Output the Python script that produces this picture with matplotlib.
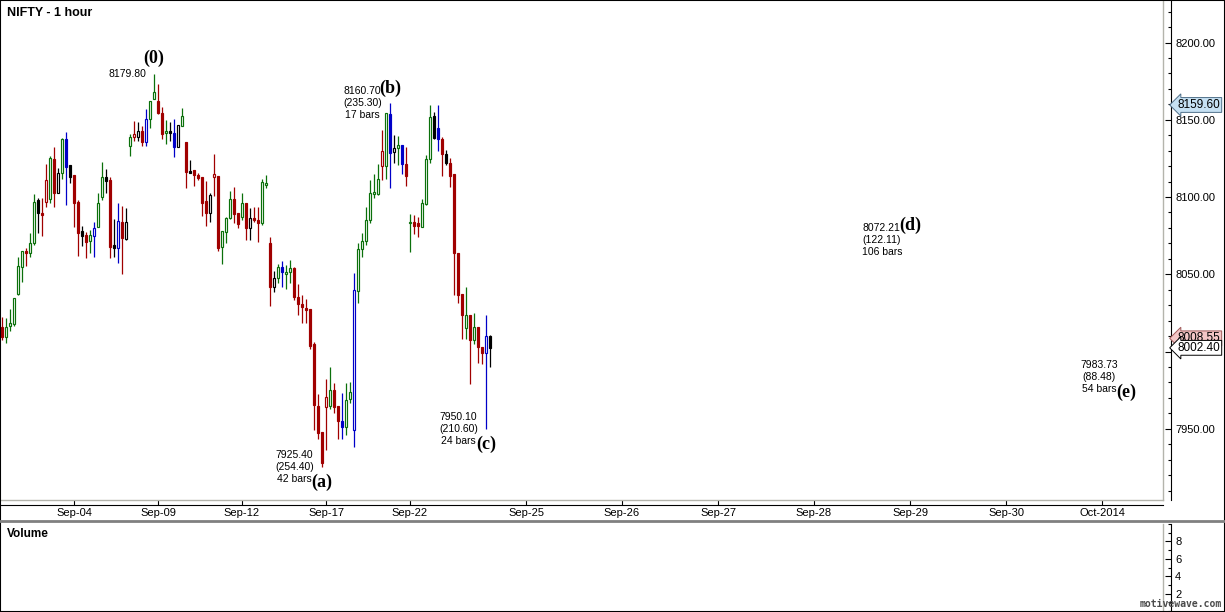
import numpy as np
import matplotlib
matplotlib.use('Agg')
import matplotlib.pyplot as plt
from matplotlib.lines import Line2D
from matplotlib.patches import Rectangle
from matplotlib.ticker import MultipleLocator, FuncFormatter

plt.rcParams['font.family'] = ['Liberation Sans', 'DejaVu Sans']

# hourly NIFTY bars
opens = [8015.9, 8009.4, 8016.5, 8017.8, 8037.2, 8054.7, 8065.1, 8063.8, 8070.2, 8098.1,
         8089.6, 8096.8, 8098.7, 8124.6, 8102.6, 8115.5, 8137.5, 8120.7, 8114.2, 8096.8,
         8078.0, 8075.4, 8071.5, 8074.8, 8080.6, 8100.0, 8112.9, 8111.0, 8068.9, 8067.0,
         8083.8, 8072.8, 8133.0, 8138.8, 8138.8, 8142.7, 8135.6, 8150.5, 8163.4, 8162.1,
         8154.4, 8141.4, 8142.7, 8141.4, 8132.4, 8146.0, 8135.6, 8116.8, 8117.5, 8114.2,
         8112.9, 8097.4, 8089.6, 8112.9, 8113.6, 8067.6, 8077.3, 8086.4, 8098.7, 8089.6,
         8087.1, 8096.1, 8079.9, 8086.4, 8085.1, 8083.2, 8107.8, 8070.2, 8041.8, 8047.6,
         8054.7, 8050.2, 8051.5, 8054.1, 8035.3, 8030.8, 8028.2, 8027.5, 8004.9, 7964.7,
         7947.9, 7964.1, 7964.7, 7975.1, 7964.7, 7955.0, 7951.1, 7969.3, 7949.2, 8039.2,
         8066.3, 8071.5, 8085.1, 8101.9, 8101.9, 8120.1, 8120.1, 8153.7, 8129.1, 8131.7,
         8133.7, 8121.4, 8083.2, 8083.8, 8083.2, 8080.6, 8095.5, 8124.6, 8152.4, 8144.7,
         8137.5, 8127.8, 8122.0, 8114.9, 8063.8, 8037.2, 8015.2, 8023.6, 8007.5, 8015.9,
         8002.9, 7999.0, 8010.0]
highs = [8022.3, 8021.7, 8027.5, 8034.6, 8061.2, 8065.1, 8067.0, 8076.7, 8101.9, 8099.4,
         8099.4, 8121.4, 8126.5, 8132.4, 8118.8, 8138.2, 8142.1, 8120.7, 8114.2, 8098.1,
         8081.2, 8077.3, 8078.6, 8083.8, 8102.6, 8122.7, 8118.1, 8112.9, 8085.8, 8096.1,
         8094.2, 8092.9, 8140.8, 8149.2, 8148.5, 8146.0, 8157.0, 8162.1, 8179.8, 8173.1,
         8158.2, 8149.8, 8148.5, 8150.5, 8146.6, 8157.6, 8135.6, 8123.9, 8117.5, 8115.5,
         8112.9, 8110.4, 8102.6, 8127.8, 8113.6, 8078.0, 8087.1, 8103.9, 8106.5, 8089.6,
         8102.6, 8096.1, 8092.9, 8093.5, 8093.5, 8111.7, 8114.2, 8074.1, 8052.1, 8056.6,
         8058.6, 8056.0, 8059.2, 8054.7, 8043.7, 8036.6, 8034.0, 8027.5, 8006.2, 7972.5,
         7947.9, 7982.2, 7990.0, 7979.6, 7964.7, 7973.2, 7979.6, 7980.3, 8050.8, 8070.2,
         8076.7, 8093.5, 8111.0, 8114.9, 8121.4, 8143.4, 8154.4, 8160.7, 8140.1, 8139.5,
         8133.7, 8132.4, 8089.0, 8088.4, 8087.1, 8098.7, 8127.2, 8159.5, 8155.0, 8159.6,
         8138.8, 8130.4, 8125.2, 8114.9, 8063.8, 8037.2, 8041.8, 8023.6, 8024.9, 8015.9,
         8002.9, 8023.6, 8010.6]
lows = [8007.5, 8005.5, 8013.3, 8016.5, 8036.6, 8045.0, 8055.3, 8061.2, 8068.9, 8076.7,
        8074.8, 8093.5, 8096.1, 8093.5, 8102.6, 8111.7, 8094.8, 8109.1, 8080.6, 8061.8,
        8068.3, 8060.5, 8063.8, 8061.2, 8080.6, 8098.1, 8102.6, 8060.5, 8061.2, 8057.3,
        8050.2, 8072.2, 8126.5, 8136.2, 8136.2, 8133.0, 8133.0, 8144.7, 8163.4, 8153.7,
        8137.5, 8134.3, 8136.2, 8125.9, 8132.4, 8146.0, 8105.8, 8115.5, 8107.1, 8111.0,
        8087.7, 8081.2, 8083.8, 8100.6, 8065.1, 8056.6, 8070.2, 8085.8, 8083.2, 8079.9,
        8085.1, 8072.2, 8072.2, 8083.8, 8070.9, 8081.9, 8105.8, 8029.5, 8038.5, 8044.3,
        8041.8, 8040.5, 8044.3, 8033.3, 8023.6, 8018.5, 8018.5, 8001.6, 7949.2, 7943.4,
        7925.4, 7936.3, 7962.8, 7960.2, 7943.4, 7943.4, 7946.0, 7966.7, 7938.2, 8031.4,
        8061.2, 8068.9, 8083.2, 8099.4, 8101.3, 8111.0, 8111.7, 8105.8, 8122.0, 8120.7,
        8114.9, 8107.1, 8064.4, 8076.1, 8074.1, 8080.6, 8094.8, 8122.0, 8137.5, 8129.8,
        8113.6, 8120.7, 8106.5, 8036.6, 8031.4, 8008.1, 8008.1, 7979.0, 8004.9, 7992.6,
        7991.9, 7950.1, 7990.0]
closes = [8009.4, 8015.9, 8018.5, 8034.6, 8055.3, 8065.1, 8063.8, 8070.2, 8096.8, 8089.6,
          8088.4, 8111.0, 8125.2, 8102.6, 8115.5, 8137.5, 8119.4, 8112.9, 8096.1, 8076.7,
          8074.8, 8070.9, 8075.4, 8079.9, 8096.1, 8112.9, 8110.4, 8067.6, 8067.0, 8084.5,
          8073.5, 8083.8, 8138.8, 8140.8, 8142.7, 8135.6, 8150.5, 8162.1, 8168.0, 8154.4,
          8140.8, 8142.7, 8141.4, 8132.4, 8146.6, 8152.4, 8116.2, 8115.5, 8114.2, 8112.3,
          8096.1, 8089.6, 8101.3, 8114.9, 8067.0, 8078.0, 8086.4, 8098.7, 8089.0, 8082.5,
          8096.1, 8079.9, 8086.4, 8085.1, 8083.2, 8109.7, 8109.1, 8041.8, 8047.6, 8054.7,
          8051.5, 8051.5, 8054.1, 8035.3, 8030.8, 8028.8, 8026.9, 8003.6, 7965.4, 7947.3,
          7927.8, 7970.6, 7975.1, 7964.1, 7955.0, 7951.1, 7968.6, 7973.8, 8039.8, 8066.3,
          8071.5, 8085.1, 8102.6, 8103.2, 8111.7, 8129.8, 8154.4, 8128.5, 8131.7, 8133.7,
          8121.4, 8113.6, 8083.8, 8081.2, 8081.2, 8096.1, 8124.6, 8151.8, 8138.2, 8137.5,
          8127.8, 8122.0, 8113.6, 8063.8, 8036.6, 8023.6, 8023.6, 8007.5, 8015.9, 8002.9,
          7999.0, 8010.0, 8002.4]
# bar class: g = up, r = down, k = inside, b = outside
bar_kind = list("rgggggrggk" "rrgrkgbkrr" "krgbggkrkb" "rkgrkrbggr" "rgkbkgrkrr"
                "rrkrrgggrr" "grkrrggrkg" "bggrrrrrrr" "rrgrrbggbg" "gggggrgbkg"
                "brgrrgggkb" "rkrrrrgrgr" "rbk")

date_ticks = [18, 39, 60, 81, 102, 131, 155, 179, 203, 227, 251, 275]
date_labels = ['Sep-04', 'Sep-09', 'Sep-12', 'Sep-17', 'Sep-22', 'Sep-25',
               'Sep-26', 'Sep-27', 'Sep-28', 'Sep-29', 'Sep-30', 'Oct-2014']

wave_names = ['(0)', '(a)', '(b)', '(c)', '(d)', '(e)']
wave_bar = [38, 80, 97, 121, 227, 281]
wave_price = [8179.80, 7925.40, 8160.70, 7950.10, 8072.21, 7983.73]
wave_change = [None, 254.40, 235.30, 210.60, 122.11, 88.48]
wave_count = [None, 42, 17, 24, 106, 54]

tag_prices = [8159.60, 8008.55, 8002.40]

kind_color = {'g': '#0b700b', 'r': '#a00000', 'b': '#0000c8', 'k': '#000000'}
gray = '#b4b4ac'

fig = plt.figure(figsize=(12.25, 6.12), dpi=100)
ax = fig.add_axes([1 / 1225, 1 - 500 / 612, 1162 / 1225, 499 / 612])
vax = fig.add_axes([1 / 1225, 1 / 612, 1162 / 1225, 87 / 612])

x = np.arange(len(opens))
o, h, l, c = (np.array(v) for v in (opens, highs, lows, closes))
cols = [kind_color[k] for k in bar_kind]
faces = ['white' if cc >= oo else col for oo, cc, col in zip(o, c, cols)]

ax.vlines(x, l, h, colors=cols, linewidth=0.9, zorder=2)
ax.bar(x, np.maximum(np.abs(c - o), 0.3), bottom=np.minimum(o, c), width=0.62,
       color=faces, edgecolor=cols, linewidth=0.85, zorder=3)

ax.set_xlim(-0.25, 290.25)
ax.set_ylim(7903.9, 8226.9)

for k, name in enumerate(wave_names):
    hi = k % 2 == 0
    pt = (wave_bar[k], wave_price[k])
    ax.annotate(name, pt, xytext=(0, 15 if hi else -16), textcoords='offset pixels',
                ha='center', va='center', family='Liberation Serif',
                fontweight='bold', fontsize=13)
    lines = ['%.2f' % wave_price[k]]
    if wave_change[k] is not None:
        lines += ['(%.2f)' % wave_change[k], '%d bars' % wave_count[k]]
    ax.annotate('\n'.join(lines), pt, xytext=(-8, 0), textcoords='offset pixels',
                ha='right', va='center', multialignment='center', fontsize=7.5,
                linespacing=1.25)

# axes frames: gray inner line, black axis line with ticks
for a in (ax, vax):
    a.spines['left'].set_visible(False)
    a.spines['top'].set_visible(False)
    a.spines['right'].set_position(('outward', 5.8))
    a.plot([1, 1], [0, 1], transform=a.transAxes, color=gray, lw=1, clip_on=False)
    a.yaxis.tick_right()
    a.tick_params(axis='y', which='major', direction='in', length=4, width=0.8,
                  pad=3, labelsize=8)
    a.tick_params(axis='y', which='minor', direction='in', length=2.5, width=0.8)
ax.spines['bottom'].set_position(('outward', 3.6))
ax.plot([0, 1], [0, 0], transform=ax.transAxes, color=gray, lw=1, clip_on=False)
ax.yaxis.set_major_locator(MultipleLocator(50))
ax.yaxis.set_minor_locator(MultipleLocator(10))
# the 8000 label sits under the price tags
ax.yaxis.set_major_formatter(FuncFormatter(lambda v, p: '' if abs(v - 8000) < 1 else '%.2f' % v))
ax.set_xticks(date_ticks)
ax.set_xticklabels(date_labels)
ax.tick_params(axis='x', direction='in', length=3.6, width=0.8, pad=2.5, labelsize=8)

tag_face = ['#c6e1f3', '#f3c6c6', 'white']
tag_edge = ['#50708a', '#a05a5a', 'black']
for p, fc, ec in zip(tag_prices, tag_face, tag_edge):
    ax.text(1.0125, p, '%.2f' % p, transform=ax.get_yaxis_transform(), ha='left',
            va='center', fontsize=8.5, zorder=6, clip_on=False,
            bbox=dict(boxstyle='larrow,pad=0.12', fc=fc, ec=ec, lw=0.7))

vax.set_xlim(ax.get_xlim())
vax.set_ylim(0, 10)
vax.set_xticks([])
vax.spines['bottom'].set_visible(False)
vax.yaxis.set_major_locator(MultipleLocator(2))
vax.yaxis.set_minor_locator(MultipleLocator(1))
vax.set_yticks([2, 4, 6, 8])
vax.text(6 / 1162, 0.885, 'Volume', transform=vax.transAxes, fontsize=8.5,
         fontweight='bold', va='center')

fig.text(7 / 1225, 1 - 13 / 612, 'NIFTY - 1 hour', fontsize=9, fontweight='bold', va='center')
fig.text(1222 / 1225, 1 - 604 / 612, 'motivewave.com', ha='right', va='center',
         family='DejaVu Sans Mono', fontweight='bold', fontsize=7, color='#4a4a4a')
fig.add_artist(Line2D([0, 1], [1 - 521 / 612] * 2, color='#808080', lw=2))
fig.add_artist(Rectangle((0, 0), 1, 1, transform=fig.transFigure, fill=False,
                         ec='black', lw=1.5))

fig.savefig('out.png', dpi=100)
